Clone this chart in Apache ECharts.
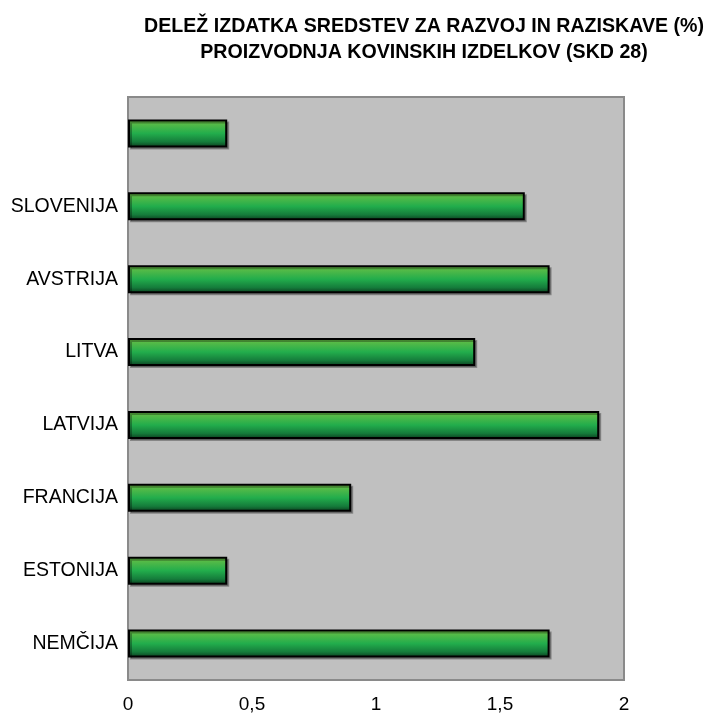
<!DOCTYPE html>
<html>
<head>
<meta charset="utf-8">
<script src="https://cdn.jsdelivr.net/npm/echarts@6/dist/echarts.min.js"></script>
<style>
  html, body { margin: 0; padding: 0; background: #fff; }
  #chart { width: 710px; height: 715px; }
</style>
</head>
<body>
<div id="chart"></div>
<script>
var drzave = ['', 'SLOVENIJA', 'AVSTRIJA', 'LITVA', 'LATVIJA', 'FRANCIJA', 'ESTONIJA', 'NEMČIJA'];
var delez = [0.4, 1.6, 1.7, 1.4, 1.9, 0.9, 0.4, 1.7];
var osX = { min: 0, max: 2, interval: 0.5 };

var graf = echarts.init(document.getElementById('chart'));

var zelena = new echarts.graphic.LinearGradient(0, 0, 0, 1, [
  { offset: 0, color: '#6fc145' },
  { offset: 0.5, color: '#22ad4c' },
  { offset: 0.8, color: '#157c3b' },
  { offset: 1, color: '#0b3a1d' }
]);

option = {
  animation: false,
  textStyle: { fontFamily: 'Liberation Sans, Arial, sans-serif' },
  title: {
    text: 'DELEŽ IZDATKA SREDSTEV ZA RAZVOJ IN RAZISKAVE (%)\nPROIZVODNJA KOVINSKIH IZDELKOV (SKD 28)',
    left: 419,
    top: 9,
    textAlign: 'center',
    textStyle: {
      fontSize: 19.6,
      fontWeight: 'bold',
      color: '#000',
      lineHeight: 26,
      fontFamily: 'Liberation Sans, Arial, sans-serif'
    }
  },
  grid: {
    left: 128,
    right: 86,
    top: 97,
    bottom: 35,
    show: true,
    backgroundColor: '#c0c0c0',
    borderColor: '#8a8a8a',
    borderWidth: 2
  },
  xAxis: {
    type: 'value',
    min: osX.min,
    max: osX.max,
    interval: osX.interval,
    axisLine: { show: false },
    axisTick: { show: false },
    splitLine: { show: false },
    axisLabel: {
      color: '#000',
      fontSize: 19,
      margin: 15,
      formatter: function (v) { return String(v).replace('.', ','); }
    }
  },
  yAxis: {
    type: 'category',
    data: drzave,
    inverse: true,
    axisLine: { show: false },
    axisTick: { show: false },
    axisLabel: { color: '#000', fontSize: 19.5, margin: 10 }
  },
  series: [{
    type: 'bar',
    data: delez,
    barWidth: 28,
    itemStyle: {
      color: zelena,
      borderColor: '#000',
      borderWidth: 2,
      shadowColor: 'rgba(0,0,0,0.3)',
      shadowOffsetX: 2,
      shadowOffsetY: 2
    }
  }]
};
graf.setOption(option);
</script>
</body>
</html>
